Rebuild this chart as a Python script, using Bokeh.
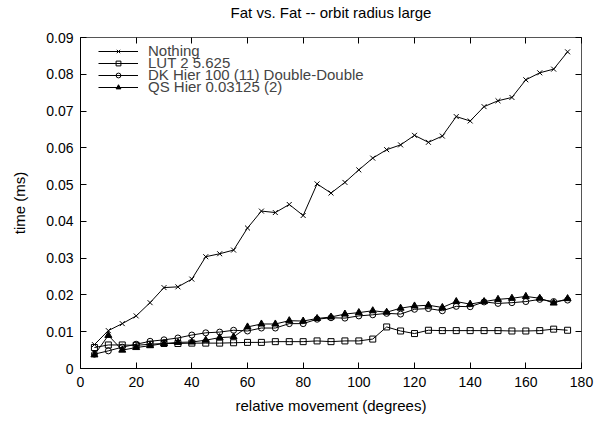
from bokeh.plotting import figure
from bokeh.models import Range1d, FixedTicker, LinearAxis, Legend, LegendItem
from bokeh.embed import file_html
from bokeh.resources import INLINE

# Relative movement (degrees) of each measurement
angles = [5, 10, 15, 20, 25, 30, 35, 40, 45, 50, 55, 60, 65, 70, 75, 80, 85, 90,
          95, 100, 105, 110, 115, 120, 125, 130, 135, 140, 145, 150, 155, 160,
          165, 170, 175]

# Timings in ms
nothing = [0.0065, 0.0103, 0.0122, 0.0143, 0.0179, 0.0220, 0.0222, 0.0243, 0.0304,
           0.0312, 0.0322, 0.0382, 0.0428, 0.0424, 0.0446, 0.0416, 0.0502, 0.0477,
           0.0506, 0.0540, 0.0572, 0.0595, 0.0608, 0.0634, 0.0615, 0.0632, 0.0685,
           0.0673, 0.0712, 0.0728, 0.0737, 0.0785, 0.0804, 0.0814, 0.0861]
lut = [0.0057, 0.0064, 0.0064, 0.0063, 0.0066, 0.0068, 0.0068, 0.0069, 0.0069,
       0.0069, 0.0070, 0.0071, 0.0071, 0.0073, 0.0073, 0.0073, 0.0075, 0.0073,
       0.0075, 0.0075, 0.0080, 0.0113, 0.0102, 0.0095, 0.0104, 0.0103, 0.0103,
       0.0103, 0.0103, 0.0103, 0.0102, 0.0102, 0.0103, 0.0107, 0.0104]
dk_hier = [0.0039, 0.0048, 0.0058, 0.0066, 0.0074, 0.0078, 0.0083, 0.0091, 0.0097,
           0.0099, 0.0104, 0.0102, 0.0110, 0.0110, 0.0122, 0.0122, 0.0134, 0.0138,
           0.0137, 0.0143, 0.0146, 0.0150, 0.0148, 0.0161, 0.0163, 0.0157, 0.0169,
           0.0168, 0.0181, 0.0177, 0.0179, 0.0182, 0.0188, 0.0182, 0.0186]
qs_hier = [0.0037, 0.0090, 0.0050, 0.0057, 0.0062, 0.0068, 0.0071, 0.0072, 0.0077,
           0.0084, 0.0086, 0.0113, 0.0121, 0.0121, 0.0130, 0.0129, 0.0136, 0.0140,
           0.0148, 0.0152, 0.0157, 0.0153, 0.0164, 0.0170, 0.0172, 0.0166, 0.0182,
           0.0175, 0.0182, 0.0188, 0.0191, 0.0196, 0.0191, 0.0178, 0.0190]

series_names = ["Nothing", "LUT 2 5.625", "DK Hier 100 (11) Double-Double",
                "QS Hier 0.03125 (2)"]
chart_title = "Fat vs. Fat -- orbit radius large"

x_ticks = [0, 20, 40, 60, 80, 100, 120, 140, 160, 180]
x_tick_labels = ["0", "20", "40", "60", "80", "100", "120", "140", "160", "180"]
y_ticks = [0, 0.01, 0.02, 0.03, 0.04, 0.05, 0.06, 0.07, 0.08, 0.09]
y_tick_labels = ["0", "0.01", "0.02", "0.03", "0.04", "0.05", "0.06", "0.07",
                 "0.08", "0.09"]

FONT = "Liberation Sans"
TICK_FS = "14px"
TEXT_FS = "15px"

p = figure(width=604, height=421, output_backend="svg", toolbar_location=None,
           x_range=Range1d(0, 180), y_range=Range1d(0, 0.09),
           min_border_left=80, min_border_right=23, min_border_top=36,
           min_border_bottom=53)

p.xgrid.visible = False
p.ygrid.visible = False
p.background_fill_color = "white"
p.border_fill_color = "white"
p.outline_line_color = "#555555"
p.outline_line_width = 1


def style_axis(ax, ticks, labels):
    ax.ticker = FixedTicker(ticks=ticks)
    ax.major_label_overrides = {t: s for t, s in zip(ticks, labels)}
    ax.major_tick_in = 6
    ax.major_tick_out = 0
    ax.minor_tick_line_color = None
    ax.major_tick_line_color = "black"
    ax.axis_line_color = "black"
    ax.major_label_text_font = FONT
    ax.major_label_text_font_size = TICK_FS
    ax.major_label_text_color = "black"
    ax.axis_label_text_font = FONT
    ax.axis_label_text_font_size = TEXT_FS
    ax.axis_label_text_font_style = "normal"
    ax.axis_label_text_color = "black"


style_axis(p.xaxis[0], x_ticks, x_tick_labels)
style_axis(p.yaxis[0], y_ticks, y_tick_labels)
p.xaxis[0].axis_label = "relative movement (degrees)"
p.yaxis[0].axis_label = "time (ms)"
p.xaxis[0].major_label_standoff = 8
p.xaxis[0].axis_label_standoff = 7
p.yaxis[0].major_label_standoff = 7
p.yaxis[0].axis_label_standoff = 15

# mirrored ticks on the top and right edges, without tick labels;
# the top one also carries the chart title, centred over the plot area
top_axis = LinearAxis()
right_axis = LinearAxis()
for ax, t, l in ((top_axis, x_ticks, x_tick_labels), (right_axis, y_ticks, y_tick_labels)):
    style_axis(ax, t, l)
    ax.axis_line_color = None
    ax.major_label_text_color = None
    ax.major_label_text_font_size = "1px"
    ax.major_label_standoff = 0
top_axis.axis_label = chart_title
top_axis.axis_label_standoff = 17
p.add_layout(top_axis, "above")
p.add_layout(right_axis, "right")

specs = [
    (nothing, dict(marker="x", size=7, fill_color=None)),
    (lut, dict(marker="square", size=6, fill_color=None)),
    (dk_hier, dict(marker="circle", size=6, fill_color=None)),
    (qs_hier, dict(marker="triangle", size=7, fill_color="black")),
]
# one key entry per series, stacked 12px apart in the top-left corner
legend_bottoms = [309, 297, 285, 273]
for name, (vals, mk), y_loc in zip(series_names, specs, legend_bottoms):
    ln = p.line(angles, vals, line_color="black", line_width=1)
    sc = p.scatter(angles, vals, line_color="black", line_width=1, **mk)
    lg = Legend(items=[LegendItem(label=name, renderers=[ln, sc])],
                location=(18, y_loc), margin=0, padding=0, spacing=0,
                glyph_width=40, glyph_height=12, label_height=12,
                label_standoff=10, label_text_font=FONT,
                label_text_font_size=TEXT_FS, border_line_color=None,
                background_fill_alpha=0)
    p.add_layout(lg)

open("out.html", "w").write(file_html(p, INLINE))
